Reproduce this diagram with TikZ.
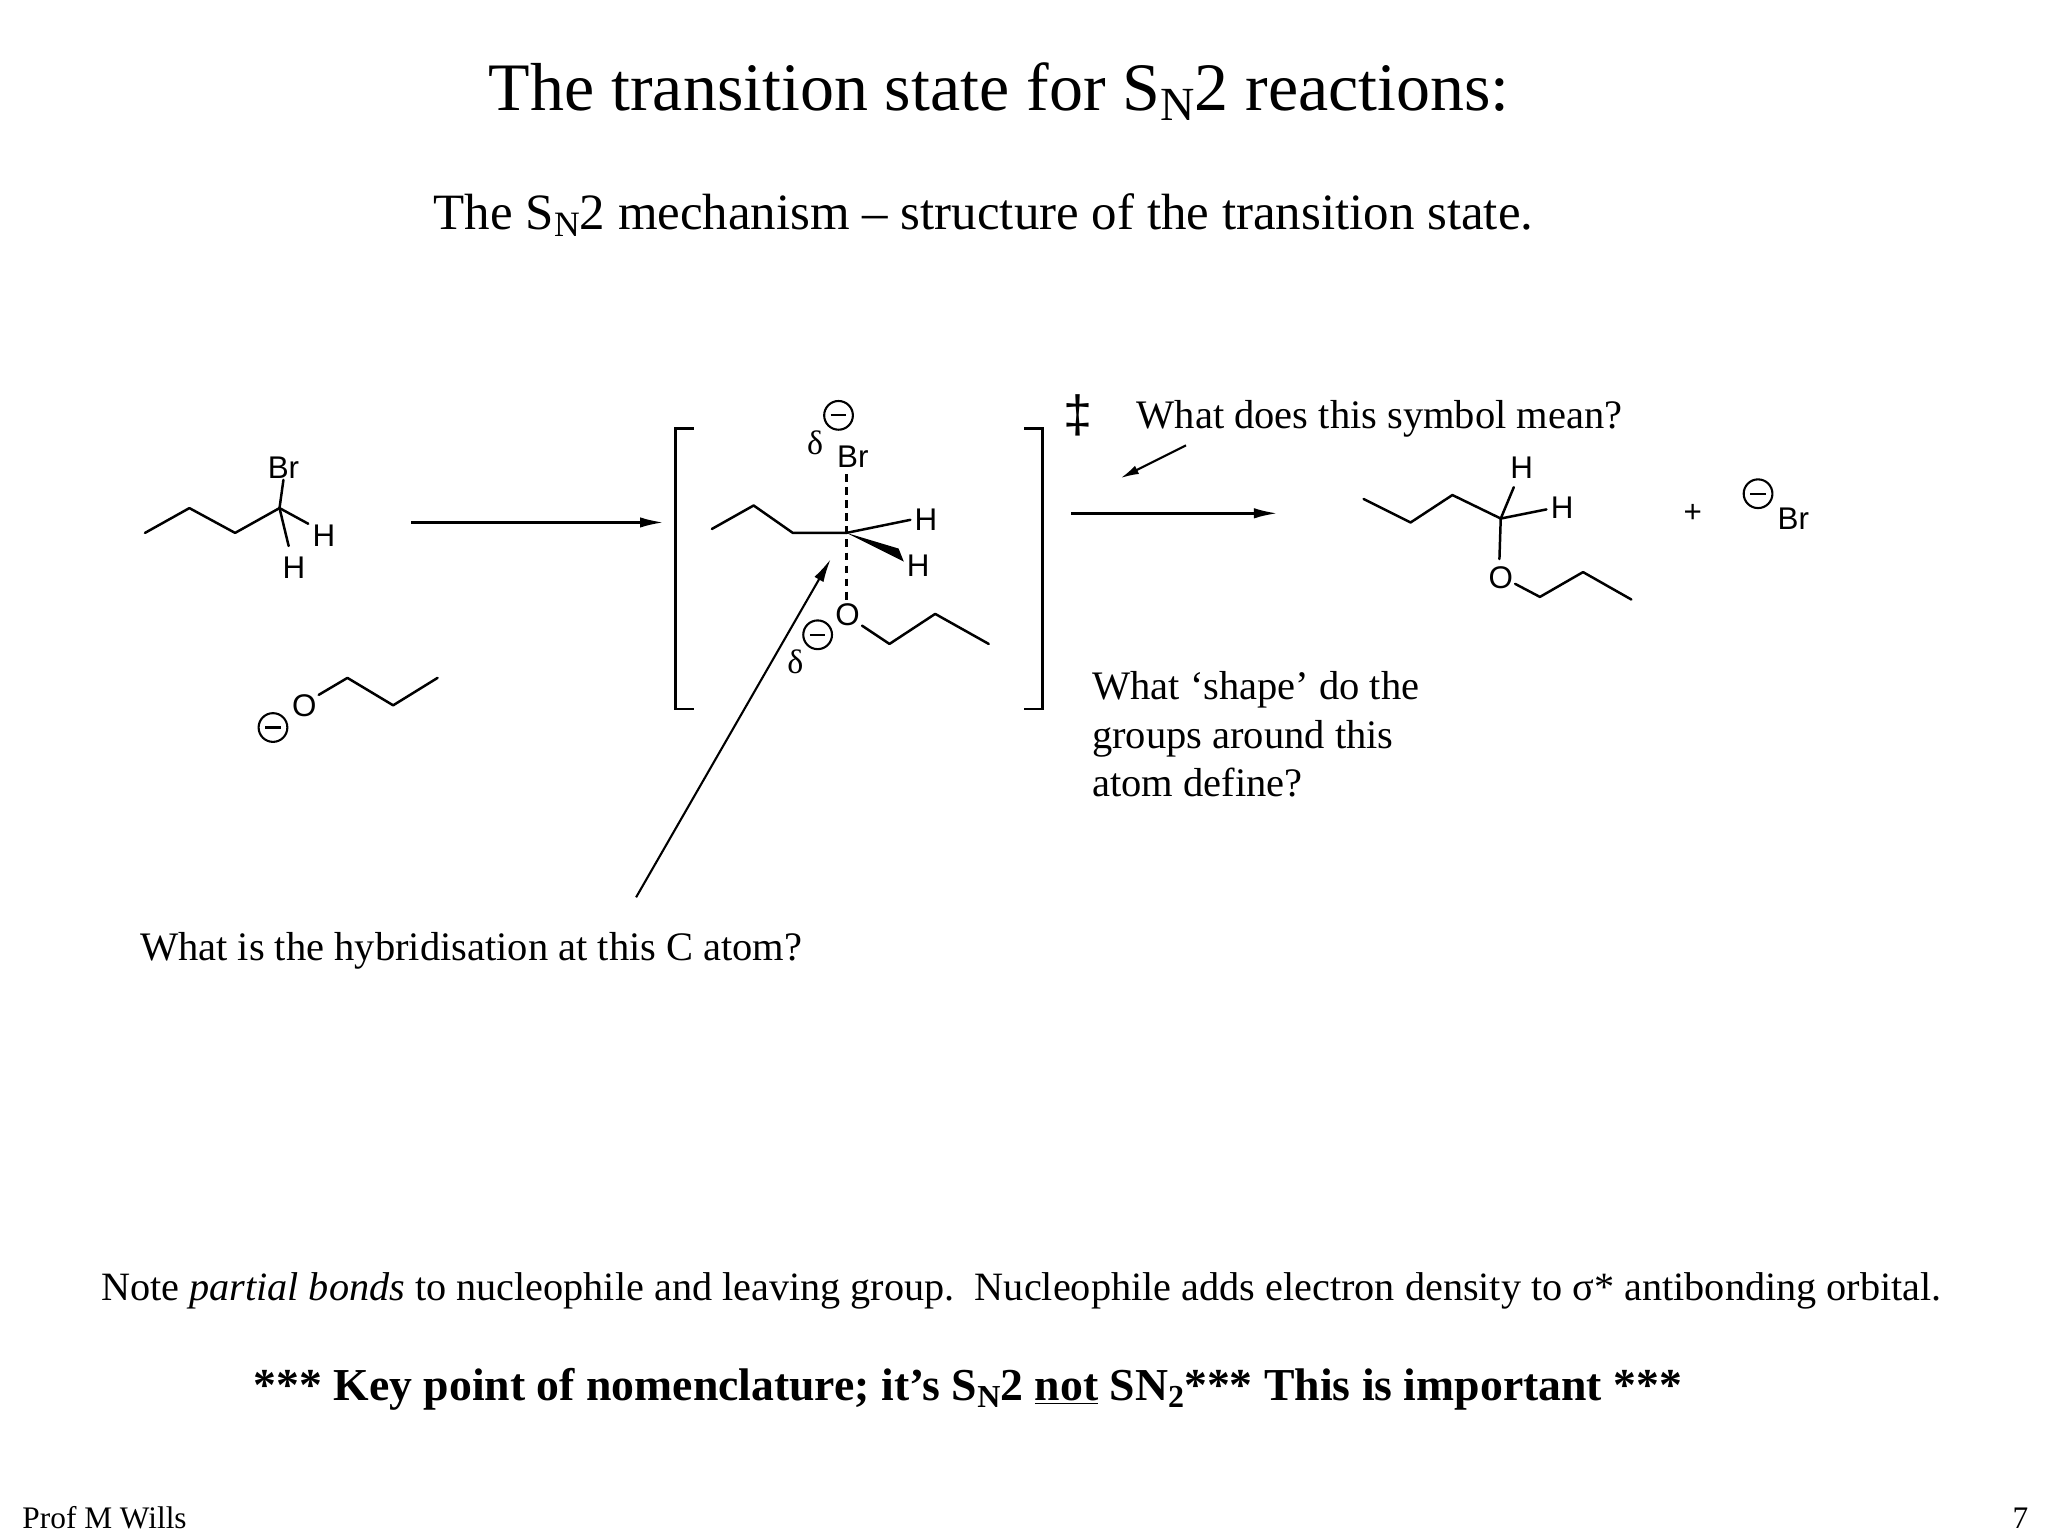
\documentclass[tikz,border=0pt]{standalone}
\usepackage{fontspec}
\setmainfont{Liberation Serif}
\newfontfamily\chem{Liberation Sans}
\usetikzlibrary{arrows.meta}
\newcommand{\snsub}[1]{\raisebox{-0.3ex}{\scalebox{0.7}{#1}}}
\begin{document}
\begin{tikzpicture}[x=1pt,y=-1pt,
  bond/.style={line width=1.9pt,line cap=round,line join=round},
  atom/.style={font=\chem\fontsize{24}{24}\selectfont,inner sep=1pt},
  minus/.style={circle,draw,line width=1.6pt,minimum size=22pt,inner sep=0pt},
  txt/.style={font=\fontsize{31}{37}\selectfont,inner sep=0pt},
  rarrow/.style={line width=1.9pt,-{Latex[length=18pt,width=8pt]}}]
\useasboundingbox (0,0) rectangle (1568,1176);
% titles
\node[font=\fontsize{52}{56}\selectfont] (title) at (765,70) {The transition state for S\snsub{N}2 reactions:};
\node[font=\fontsize{39}{42}\selectfont] (sub) at (753,165) {The S\snsub{N}2 mechanism -- structure of the transition state.};
% starting bromide
\draw[bond] (111,408) -- (145,389) -- (180,408) -- (214,389);
\node[atom] (br1) at (217,358) {Br};
\node[atom] (h1a) at (248,410) {H};
\node[atom] (h1b) at (225,435) {H};
\draw[bond] (214,389) -- (br1.south);
\draw[bond] (214,389) -- (236,401);
\draw[bond] (214,389) -- (221,418);
% alkoxide
\node[atom] (o1) at (233,540) {O};
\node[minus] (m1) at (209,557) {};
\draw[line width=1.6pt] ([xshift=-6pt]m1.center) -- ([xshift=6pt]m1.center);
\draw[bond] (244,532) -- (266,519) -- (301,540) -- (335,519);
% arrow 1
\coordinate (a1s) at (315,400); \coordinate (a1e) at (508,400);
\draw[rarrow] (a1s) -- (a1e);
% brackets
\draw[line width=1.9pt] (531,328) -- (517,328) -- (517,543) -- (531,543);
\draw[line width=1.9pt] (784,328) -- (798,328) -- (798,543) -- (784,543);
% TS
\draw[bond] (545,405) -- (577,387) -- (607,408) -- (648,408);
\node[atom] (br2) at (653,350) {Br};
\node[atom] (o2) at (649,471) {O};
\coordinate (c2) at (648,408);
\draw[line width=1.9pt,dash pattern=on 6pt off 4pt] (648,363) -- (c2) -- (648,459);
\draw[bond] (660,479) -- (681,493) -- (716,470) -- (757,493);
\node[atom] (h2a) at (709,398) {H};
\node[atom] (h2b) at (703,433) {H};
\draw[bond] (c2) -- (697,398);
\fill (c2) -- (688,420) -- (692,430) -- cycle;
\node[minus] (m2) at (642,318) {};
\draw[line width=1.6pt] ([xshift=-6pt]m2.center) -- ([xshift=6pt]m2.center);
\node[font=\fontsize{26}{26}\selectfont] (d2) at (624,339) {δ};
\node[minus] (m3) at (626,486) {};
\draw[line width=1.6pt] ([xshift=-6pt]m3.center) -- ([xshift=6pt]m3.center);
\node[font=\fontsize{26}{26}\selectfont] (d3) at (609,507) {δ};
% dagger symbol
\node[font=\chem\fontsize{40}{40}\selectfont] (dd) at (825,318) {‡};
\node[txt,anchor=west] (q1) at (870,321) {What does this symbol mean?};
\coordinate (q1s) at (908,341); \coordinate (q1e) at (858,366);
\draw[line width=1.6pt,-{Latex[length=14pt,width=7pt]}] (q1s) -- (q1e);
% arrow 2
\coordinate (a2s) at (820,393); \coordinate (a2e) at (978,393);
\draw[rarrow] (a2s) -- (a2e);
\node[txt,anchor=north west,align=left] (q2) at (836,514) {What `shape' do the\\groups around this\\atom define?};
% product
\draw[bond] (1044,382) -- (1080,400) -- (1112,379) -- (1149,397);
\node[atom] (h3a) at (1165,358) {H};
\node[atom] (h3b) at (1196,389) {H};
\node[atom] (o3) at (1149,442) {O};
\draw[bond] (1149,397) -- (1159,373);
\draw[bond] (1149,397) -- (1184,390);
\draw[bond] (1149,397) -- (1148,428);
\draw[bond] (1160,447) -- (1179,457) -- (1212,438) -- (1249,459);
\node[atom] (plus) at (1296,393) {+};
\node[minus] (m4) at (1346,378) {};
\draw[line width=1.6pt] ([xshift=-6pt]m4.center) -- ([xshift=6pt]m4.center);
\node[atom] (br3) at (1373,397) {Br};
% hybridisation arrow
\node[txt,anchor=west] (q3) at (107,728) {What is the hybridisation at this C atom?};
\coordinate (q3s) at (487,687); \coordinate (q3e) at (636,428);
\draw[line width=1.6pt,-{Latex[length=18pt,width=8pt]}] (q3s) -- (q3e);
% bottom
\node[font=\fontsize{30.8}{37}\selectfont,inner sep=0pt] (note) at (782,988) {Note \textit{partial bonds} to nucleophile and leaving group.\ \ Nucleophile adds electron density to σ* antibonding orbital.};
\node[font=\fontsize{35}{38}\selectfont\bfseries] (key) at (741,1064) {*** Key point of nomenclature; it's S\snsub{N}2 \underline{not} SN\snsub{2}*** This is important ***};
\node[font=\fontsize{24}{26}\selectfont,anchor=west,inner sep=0pt] (prof) at (17,1162) {Prof M Wills};
\node[font=\fontsize{24}{26}\selectfont,anchor=east,inner sep=0pt] (pg) at (1553,1162) {7};
\end{tikzpicture}
\end{document}
